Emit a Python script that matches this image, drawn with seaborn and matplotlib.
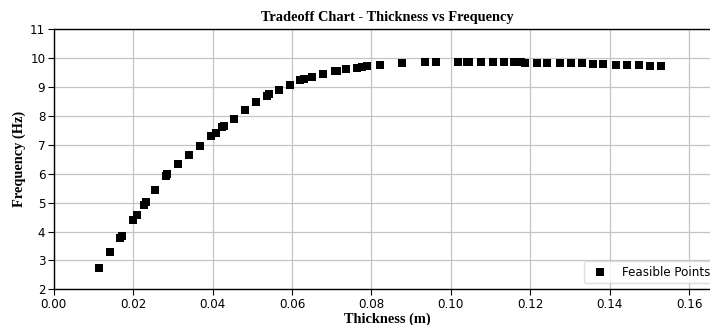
import matplotlib
matplotlib.use("Agg")
import matplotlib.pyplot as plt
import seaborn as sns
import pandas as pd

thickness = [0.0114, 0.0142, 0.0168, 0.0171, 0.0199, 0.0209, 0.0227, 0.0233, 0.0256,
             0.0283, 0.0285, 0.0312, 0.0341, 0.0369, 0.0397, 0.0409, 0.0425, 0.0430,
             0.0454, 0.0482, 0.0510, 0.0537, 0.0542, 0.0567, 0.0594, 0.0621, 0.0631,
             0.0651, 0.0679, 0.0707, 0.0713, 0.0737, 0.0763, 0.0776, 0.0788, 0.0822,
             0.0877, 0.0934, 0.0963, 0.1019, 0.1040, 0.1046, 0.1076, 0.1105, 0.1133,
             0.1160, 0.1177, 0.1187, 0.1217, 0.1242, 0.1274, 0.1302, 0.1330, 0.1359,
             0.1384, 0.1416, 0.1443, 0.1473, 0.1500, 0.1529]
frequency = [2.75, 3.29, 3.79, 3.84, 4.39, 4.56, 4.91, 5.03, 5.45,
             5.93, 5.98, 6.33, 6.65, 6.97, 7.30, 7.41, 7.61, 7.66,
             7.91, 8.20, 8.47, 8.69, 8.75, 8.89, 9.08, 9.24, 9.28,
             9.36, 9.46, 9.55, 9.57, 9.62, 9.66, 9.70, 9.73, 9.76,
             9.82, 9.86, 9.86, 9.87, 9.87, 9.87, 9.87, 9.87, 9.86,
             9.86, 9.86, 9.85, 9.85, 9.85, 9.84, 9.83, 9.82, 9.81,
             9.79, 9.78, 9.76, 9.75, 9.74, 9.72]

series_label = "Feasible Points"
title = "Tradeoff Chart - Thickness vs Frequency"
x_label = "Thickness (m)"
y_label = "Frequency (Hz)"
x_ticks = [0.00, 0.02, 0.04, 0.06, 0.08, 0.10, 0.12, 0.14, 0.16]
y_ticks = [2, 3, 4, 5, 6, 7, 8, 9, 10, 11]

df = pd.DataFrame({"Thickness": thickness, "Frequency": frequency})

sns.set_theme(style="whitegrid")
plt.rcParams["font.family"] = ["DejaVu Sans"]
plt.rcParams["text.color"] = "black"
plt.rcParams["axes.labelcolor"] = "black"

fig = plt.figure(figsize=(7.1, 3.25), dpi=100)
ax = fig.add_axes([0.0756, 0.1098, 1.0155 - 0.0756, 0.80])

sns.scatterplot(data=df, x="Thickness", y="Frequency", ax=ax, marker="s",
                color="black", s=32, linewidth=0, label=series_label, zorder=3)

ax.set_xlim(0, 0.168)
ax.set_ylim(2, 11)
ax.set_xticks(x_ticks)
ax.set_xticklabels([f"{v:.2f}" for v in x_ticks])
ax.set_yticks(y_ticks)
ax.set_yticklabels([str(v) for v in y_ticks])
ax.tick_params(axis="both", labelsize=8.6, colors="black", length=4, width=0.8,
               direction="out", bottom=True, left=True, pad=2)
ax.grid(True, color="#c4c4c4", linewidth=0.9)
for side in ["left", "bottom", "top", "right"]:
    ax.spines[side].set_color("black")
    ax.spines[side].set_linewidth(1.0)

ax.set_title(title, fontsize=10.4, fontweight="bold", family="Liberation Serif",
             pad=6, color="black")
ax.set_xlabel(x_label, fontsize=10.4, fontweight="bold", family="Liberation Serif",
              labelpad=1, color="black")
ax.set_ylabel(y_label, fontsize=10.4, fontweight="bold", family="Liberation Serif",
              labelpad=3, color="black")

leg = ax.legend(loc="lower right", fontsize=8.6, frameon=True, markerscale=1.0)
leg.get_frame().set_edgecolor("#d8d8d8")
for t in leg.get_texts():
    t.set_color("black")

fig.savefig("out.png", dpi=100)
